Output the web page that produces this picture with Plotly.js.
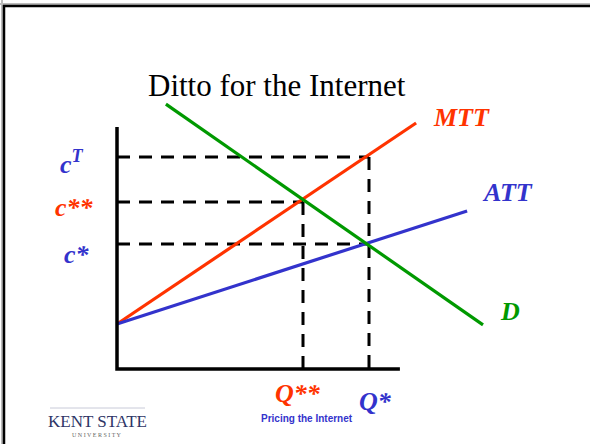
<!DOCTYPE html>
<html>
<head>
<meta charset="utf-8">
<script src="https://cdn.plot.ly/plotly-3.0.1.min.js"></script>
<style>
html,body{margin:0;padding:0;background:#fff;}
#chart{width:590px;height:444px;}
</style>
</head>
<body>
<div id="chart"></div>
<script>
// ---- data (quantity on x, cost on y) ----
var axisX = [0, 0, 9.43];
var axisY = [8.07, 0, 0];

var mttX = [0, 9.97];
var mttY = [1.5, 8.2];

var attX = [0, 11.67];
var attY = [1.5, 5.27];

var demandX = [1.63, 12.2];
var demandY = [8.83, 1.47];

var qStarStar = 6.2;
var qStar = 8.4;
var cStar = 4.17;
var cStarStar = 5.57;
var cT = 7.07;

var curveLabels = ['MTT', 'ATT', 'D'];
var costLabels = ['c<sup>T</sup>', 'c**', 'c*'];
var qtyLabels = ['Q**', 'Q*'];

var RED = '#FF3300', BLUE = '#3333CC', GREEN = '#009900';
var SERIF = '"Liberation Serif", "Times New Roman", serif';
var SANS = '"Liberation Sans", Arial, sans-serif';

var dashStyle = {color: '#000', width: 3, dash: '13px,9px'};

var traces = [
  // dashed guide lines
  {x: [0, qStar], y: [cT, cT], mode: 'lines', line: dashStyle},
  {x: [qStar, qStar], y: [cT, 0], mode: 'lines', line: dashStyle},
  {x: [0, qStarStar], y: [cStarStar, cStarStar], mode: 'lines', line: dashStyle},
  {x: [qStarStar, qStarStar], y: [cStarStar, 0], mode: 'lines', line: dashStyle},
  {x: [0, qStar], y: [cStar, cStar], mode: 'lines', line: dashStyle},
  // curves
  {x: mttX, y: mttY, mode: 'lines', line: {color: RED, width: 3.2}},
  {x: attX, y: attY, mode: 'lines', line: {color: BLUE, width: 3.2}},
  {x: demandX, y: demandY, mode: 'lines', line: {color: GREEN, width: 3.2}},
  // axes
  {x: axisX, y: axisY, mode: 'lines', line: {color: '#000', width: 3.5}}
];

function lab(text, x, y, color, size) {
  return {text: '<b><i>' + text + '</i></b>', x: x, y: y, xref: 'x', yref: 'y',
    showarrow: false, font: {family: SERIF, size: size, color: color},
    xanchor: 'center', yanchor: 'middle'};
}

var annotations = [
  {text: 'Ditto for the Internet', x: 0.469, y: 0.808, xref: 'paper', yref: 'paper',
   showarrow: false, font: {family: SERIF, size: 31, color: '#000'}, xanchor: 'center', yanchor: 'middle'},
  lab(curveLabels[0], 11.47, 8.37, RED, 26),
  lab(curveLabels[1], 13.03, 5.87, BLUE, 26),
  lab(curveLabels[2], 13.1, 1.93, GREEN, 26),
  lab(costLabels[0], -1.5, 6.9, BLUE, 26),
  lab(costLabels[1], -1.43, 5.4, RED, 26),
  lab(costLabels[2], -1.33, 3.83, BLUE, 26),
  lab(qtyLabels[0], 6.03, -0.8, RED, 26),
  lab(qtyLabels[1], 8.6, -1.07, BLUE, 26),
  {text: '<b>Pricing the Internet</b>', x: 0.52, y: 0.058, xref: 'paper', yref: 'paper',
   showarrow: false, font: {family: SANS, size: 10, color: BLUE}, xanchor: 'center', yanchor: 'middle'},
  {text: 'KENT STATE', x: 0.165, y: 0.05, xref: 'paper', yref: 'paper',
   showarrow: false, font: {family: SERIF, size: 17, color: '#2E3566'}, xanchor: 'center', yanchor: 'middle'},
  {text: 'U N I V E R S I T Y', x: 0.165, y: 0.02, xref: 'paper', yref: 'paper',
   showarrow: false, font: {family: SERIF, size: 6, color: '#666'}, xanchor: 'center', yanchor: 'middle'}
];

var shapes = [
  {type: 'line', xref: 'paper', yref: 'paper', x0: 0, x1: 1, y0: 1 - 4/444, y1: 1 - 4/444, line: {color: '#BBBBBB', width: 2}},
  {type: 'line', xref: 'paper', yref: 'paper', x0: 2/590, x1: 2/590, y0: 0, y1: 1, line: {color: '#BBBBBB', width: 2}},
  {type: 'line', xref: 'paper', yref: 'paper', x0: 3/590, x1: 1, y0: 1 - 6/444, y1: 1 - 6/444, line: {color: '#000', width: 2.5}},
  {type: 'line', xref: 'paper', yref: 'paper', x0: 4/590, x1: 4/590, y0: 0, y1: 1 - 5/444, line: {color: '#000', width: 2.5}},
  // small decoration above logo
  {type: 'line', xref: 'paper', yref: 'paper', x0: 50/590, x1: 145/590, y0: 1 - 408/444, y1: 1 - 408/444, line: {color: '#C8CAD8', width: 1}}
];

var layout = {
  width: 590, height: 444,
  margin: {l: 0, r: 0, t: 0, b: 0},
  paper_bgcolor: '#fff', plot_bgcolor: '#fff',
  showlegend: false,
  xaxis: {range: [-117/30, 473/30], visible: false, fixedrange: true},
  yaxis: {range: [-75/30, 369/30], visible: false, fixedrange: true},
  annotations: annotations,
  shapes: shapes
};

traces.forEach(function(t){ t.hoverinfo = 'skip'; t.cliponaxis = false; });

Plotly.newPlot('chart', traces, layout, {staticPlot: true, displayModeBar: false});
</script>
</body>
</html>
